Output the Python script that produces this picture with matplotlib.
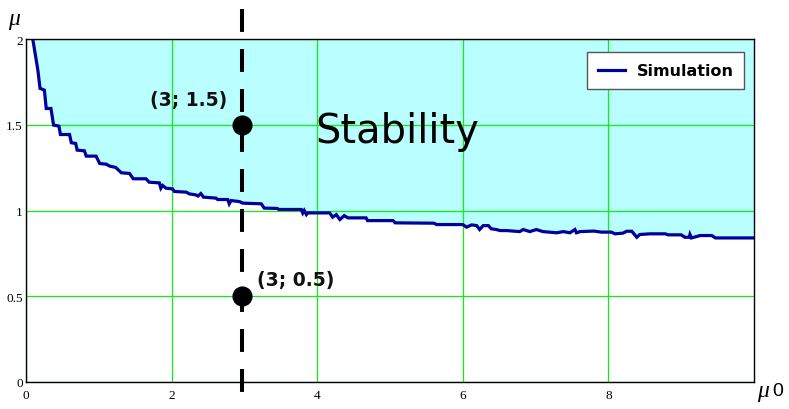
import matplotlib
matplotlib.use("Agg")
import matplotlib.pyplot as plt

# Simulated stability boundary
curve_x = [0.09, 0.13, 0.16, 0.19, 0.25, 0.275, 0.34, 0.376, 0.45, 0.47, 0.596, 0.62, 0.68, 0.70,
           0.80, 0.825, 0.96, 1.01, 1.10, 1.146, 1.23, 1.307, 1.42, 1.47, 1.646, 1.69, 1.83, 1.85,
           1.875, 1.92, 2.01, 2.036, 2.20, 2.24, 2.33, 2.36, 2.40, 2.435, 2.61, 2.63, 2.77, 2.79,
           2.815, 2.93, 2.975, 3.23, 3.27, 3.45, 3.47, 3.78, 3.80, 3.82, 3.85, 3.87, 4.17, 4.21,
           4.26, 4.31, 4.37, 4.42, 4.67, 4.69, 5.04, 5.07, 5.60, 5.64, 6.00, 6.05, 6.12, 6.19,
           6.23, 6.28, 6.35, 6.39, 6.46, 6.51, 6.60, 6.78, 6.83, 6.92, 7.01, 7.10, 7.29, 7.38,
           7.47, 7.54, 7.56, 7.61, 7.80, 7.90, 8.04, 8.09, 8.20, 8.25, 8.32, 8.39, 8.43, 8.57,
           8.78, 8.82, 9.00, 9.05, 9.11, 9.12, 9.14, 9.26, 9.42, 9.47, 10.0]
curve_y = [2.00, 1.897, 1.819, 1.712, 1.702, 1.595, 1.595, 1.498, 1.492, 1.443, 1.443, 1.395, 1.391, 1.352,
           1.348, 1.317, 1.317, 1.274, 1.270, 1.259, 1.251, 1.220, 1.216, 1.185, 1.185, 1.165, 1.161, 1.130,
           1.146, 1.130, 1.126, 1.111, 1.107, 1.097, 1.091, 1.084, 1.099, 1.078, 1.072, 1.064, 1.064, 1.039,
           1.058, 1.052, 1.043, 1.039, 1.014, 1.012, 1.006, 1.006, 0.985, 1.000, 0.976, 0.986, 0.986, 0.961,
           0.976, 0.947, 0.970, 0.957, 0.957, 0.941, 0.941, 0.928, 0.926, 0.918, 0.918, 0.903, 0.916, 0.912,
           0.889, 0.912, 0.912, 0.893, 0.889, 0.883, 0.883, 0.877, 0.889, 0.877, 0.889, 0.877, 0.870, 0.877,
           0.870, 0.889, 0.870, 0.877, 0.880, 0.874, 0.874, 0.864, 0.868, 0.879, 0.879, 0.844, 0.860, 0.864,
           0.864, 0.858, 0.858, 0.844, 0.844, 0.860, 0.840, 0.854, 0.854, 0.840, 0.840]

points_x = [2.96, 2.96]
points_y = [1.5, 0.5]
point_labels = ["(3; 1.5)", "(3; 0.5)"]
dash_x = 2.96

x_ticks = [0, 2, 4, 6, 8]
x_tick_labels = ["0", "2", "4", "6", "8"]
y_ticks = [0, 0.5, 1, 1.5, 2]
y_tick_labels = ["0", "0.5", "1", "1.5", "2"]

W, H = 789, 410
fig = plt.figure(figsize=(W / 100, H / 100), dpi=100)
x0, x1, ytop, ybot = 26.2, 754.0, 40.0, 383.0
ax = fig.add_axes([x0 / W, (H - ybot) / H, (x1 - x0) / W, (ybot - ytop) / H])
ax.set_xlim(0, 10)
ax.set_ylim(0, 2)

navy = "#00009C"
ax.fill_between(curve_x, curve_y, 2, color="#B9FFFF", linewidth=0, zorder=0.3)
ax.set_xticks(x_ticks)
ax.set_xticklabels(x_tick_labels)
ax.set_yticks(y_ticks)
ax.set_yticklabels(y_tick_labels)
ax.grid(True, color="#11EE11", linewidth=0.9, zorder=1)
ax.set_axisbelow("line")
ax.tick_params(length=0, labelsize=9.5)
ax.tick_params(axis="y", pad=2.5)
ax.tick_params(axis="x", pad=5)
for lab in ax.get_xticklabels() + ax.get_yticklabels():
    lab.set_family("Liberation Serif")
for s in ax.spines.values():
    s.set_color("black")
    s.set_linewidth(1.0)

line, = ax.plot(curve_x, curve_y, color=navy, linewidth=2.3, zorder=2, label="Simulation",
                solid_joinstyle="miter")

# dashed vertical line extending beyond the plot
ytop_d = (ybot - 10) / (ybot - ytop) * 2
ybot_d = (ybot - 420) / (ybot - ytop) * 2
lw = 2.9
ax.plot([dash_x, dash_x], [ytop_d, ybot_d], color="black", linewidth=lw,
        dashes=(16.5 / lw, 12.3 / lw), clip_on=False, zorder=3, solid_capstyle="butt",
        dash_capstyle="butt")

ax.plot(points_x, points_y, "o", color="black", markersize=13.5, zorder=4, clip_on=False)

ax.text(2.76, 1.645, point_labels[0], ha="right", va="center", fontsize=13.5,
        fontweight="bold", color="#111111", zorder=5)
ax.text(3.17, 0.60, point_labels[1], ha="left", va="center", fontsize=13.5,
        fontweight="bold", color="#111111", zorder=5)
ax.text(3.97, 1.40, "Stability", ha="left", va="baseline", fontsize=28.8,
        color="black", zorder=5)

leg = ax.legend(handles=[line], loc="upper right", bbox_to_anchor=(0.9867, 0.9612),
                borderaxespad=0, frameon=True, fancybox=False, framealpha=1,
                edgecolor="#555555", facecolor="white", borderpad=0.68,
                handlelength=1.7, handletextpad=0.7,
                prop={"weight": "bold", "size": 11.5})
leg.get_frame().set_linewidth(1.0)
leg.set_zorder(6)

# axis labels
fig.text(8 / W, 1 - 19 / H, "\u03bc", fontsize=17, style="italic", family="Liberation Serif",
         ha="left", va="center")
fig.text(757 / W, 1 - 392 / H, "\u03bc", fontsize=17, style="italic", family="Liberation Serif",
         ha="left", va="center")
fig.text(772 / W, 1 - 392 / H, "0", fontsize=14, family="Liberation Sans",
         ha="left", va="center")

fig.savefig("out.png", dpi=100)
